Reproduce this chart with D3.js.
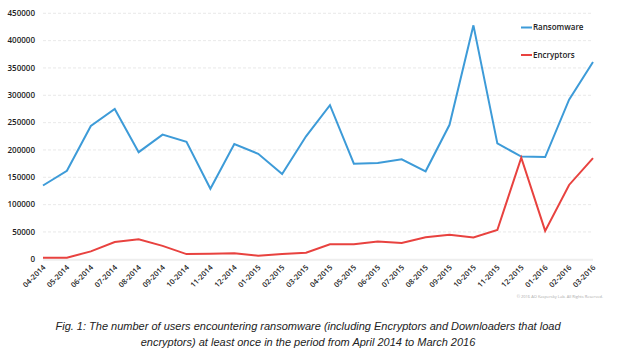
<!DOCTYPE html>
<html lang="en">
<head>
    <meta charset="UTF-8" />
    <title>Ransomware vs Encryptors</title>
    <style>
        body { margin: 0; background: #fff; }
        #viz { width: 617px; height: 354px; }
        .tick-label { font-family: "Open Sans", sans-serif; font-weight: 600; fill: #222; }
        .caption { font-family: "Liberation Sans", Arial, sans-serif; font-style: italic; fill: #222; }
    </style>
</head>
<body>
    <div id="viz"></div>
    <script src="https://d3js.org/d3.v7.min.js"></script>
    <script>
        // --- Data ---
        const months = ["04-2014", "05-2014", "06-2014", "07-2014", "08-2014", "09-2014",
            "10-2014", "11-2014", "12-2014", "01-2015", "02-2015", "03-2015",
            "04-2015", "05-2015", "06-2015", "07-2015", "08-2015", "09-2015",
            "10-2015", "11-2015", "12-2015", "01-2016", "02-2016", "03-2016"];
        const ransomware = [135000, 162000, 244000, 275000, 196000, 228000,
            215000, 129000, 211000, 193000, 156000, 225000,
            282000, 175000, 176000, 183000, 161000, 246000,
            428000, 212000, 188000, 187000, 292000, 361000];
        const encryptors = [3000, 3000, 14500, 31500, 36500, 24500,
            9500, 10000, 11000, 6500, 9500, 12000,
            27500, 27500, 32500, 30000, 40500, 45000,
            40000, 53500, 186000, 52000, 136000, 185000];
        const yTicks = [0, 50000, 100000, 150000, 200000, 250000, 300000, 350000, 400000, 450000];
        const series = [
            { name: "Ransomware", values: ransomware, color: "#3d9bd8" },
            { name: "Encryptors", values: encryptors, color: "#e8423f" }
        ];

        const width = 617, height = 354;
        const svg = d3.select("#viz").append("svg")
            .attr("width", width)
            .attr("height", height);

        const x = d3.scalePoint().domain(months).range([43, 593]);
        const y = d3.scaleLinear().domain([0, 450000]).range([259.3, 13.3]);

        // gridlines
        svg.append("g")
            .selectAll("line")
            .data(yTicks.slice(1))
            .join("line")
            .attr("x1", 43).attr("x2", 593)
            .attr("y1", d => y(d)).attr("y2", d => y(d))
            .attr("stroke", "#e3e3e3")
            .attr("stroke-dasharray", "3,2")
            .attr("stroke-width", 0.8);

        // baseline
        svg.append("line")
            .attr("x1", 43).attr("x2", 593)
            .attr("y1", y(0) + 0.5).attr("y2", y(0) + 0.5)
            .attr("stroke", "#eeeeee")
            .attr("stroke-width", 2);

        // y labels
        svg.append("g")
            .selectAll("text")
            .data(yTicks)
            .join("text")
            .attr("class", "tick-label")
            .attr("x", 35)
            .attr("y", d => y(d))
            .attr("dy", "0.35em")
            .attr("text-anchor", "end")
            .attr("font-size", "8px")
            .text(d => d);

        // x labels
        svg.append("g")
            .selectAll("text")
            .data(months)
            .join("text")
            .attr("class", "tick-label")
            .attr("font-size", "7.5px")
            .attr("text-anchor", "end")
            .attr("transform", d => `translate(${x(d) + 3},${268}) rotate(-45)`)
            .text(d => d);

        // lines
        const line = d3.line()
            .x((d, i) => x(months[i]))
            .y(d => y(d));

        svg.append("g")
            .selectAll("path")
            .data(series)
            .join("path")
            .attr("fill", "none")
            .attr("stroke", d => d.color)
            .attr("stroke-width", 2)
            .attr("stroke-linejoin", "miter")
            .attr("d", d => line(d.values));

        // legend
        const legend = svg.append("g")
            .selectAll("g")
            .data(series)
            .join("g")
            .attr("transform", (d, i) => `translate(521,${27.5 + i * 27.5})`);
        legend.append("line")
            .attr("x1", 0).attr("x2", 11)
            .attr("stroke", d => d.color)
            .attr("stroke-width", 2);
        legend.append("text")
            .attr("class", "tick-label")
            .attr("x", 12)
            .attr("dy", "0.35em")
            .attr("font-size", "8px")
            .text(d => d.name);

        // copyright
        svg.append("text")
            .attr("x", 603).attr("y", 298)
            .attr("text-anchor", "end")
            .attr("font-family", "Open Sans, sans-serif")
            .attr("font-size", "4px")
            .attr("fill", "#aaa")
            .text("\u00a9 2016 AO Kaspersky Lab. All Rights Reserved.");

        // caption
        const captionLines = [
            "Fig. 1: The number of users encountering ransomware (including Encryptors and Downloaders that load",
            "encryptors) at least once in the period from April 2014 to March 2016"
        ];
        svg.append("g")
            .selectAll("text")
            .data(captionLines)
            .join("text")
            .attr("class", "caption")
            .attr("x", 308)
            .attr("y", (d, i) => 330 + i * 16)
            .attr("text-anchor", "middle")
            .attr("font-size", "11px")
            .text(d => d);
    </script>
</body>
</html>
